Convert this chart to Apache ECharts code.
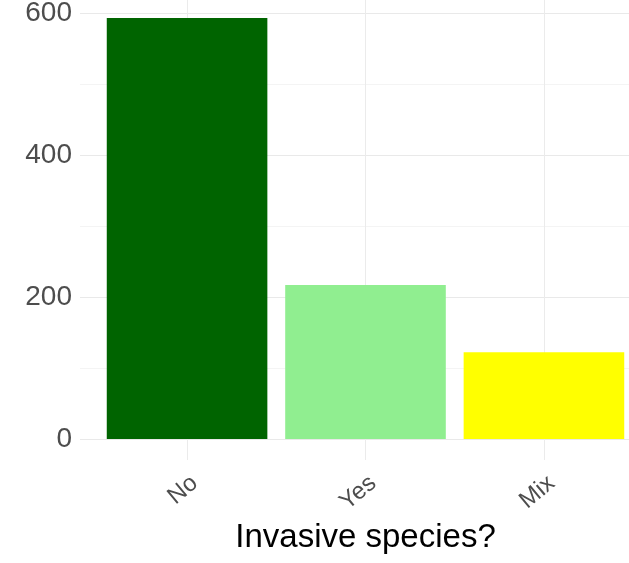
<!DOCTYPE html>
<html>
<head>
<meta charset="utf-8">
<script src="https://cdn.jsdelivr.net/npm/echarts@6/dist/echarts.min.js"></script>
<style>
html,body{margin:0;padding:0;background:#fff}
#chart{width:629px;height:563px}
</style>
</head>
<body>
<div id="chart"></div>
<script>
// data
const categories = ['No', 'Yes', 'Mix'];
const counts = [593, 217, 122];
const barColors = ['#006400', '#90ee90', '#ffff00'];
const yTickLabels = [0, 200, 400, 600];

// bars sit at 1,2,3 on a value axis so the panel can have ggplot-like padding
const positions = categories.map((c, i) => i + 1);

const chart = echarts.init(document.getElementById('chart'), null, {renderer: 'canvas'});

const option = {
    backgroundColor: '#fff',
    animation: false,
    grid: {
        left: 80,
        right: -22,
        top: -3,
        bottom: 103,
        outerBoundsMode: 'none'
    },
    xAxis: {
        type: 'value',
        min: 0.4,
        max: 3.6,
        minInterval: 1,
        maxInterval: 1,
        axisLine: {show: false},
        axisTick: {show: false},
        splitLine: {
            show: true,
            showMinLine: false,
            showMaxLine: false,
            lineStyle: {color: '#ebebeb', width: 1}
        },
        axisLabel: {
            rotate: 40,
            margin: 11,
            fontSize: 24,
            verticalAlign: 'top',
            color: '#4d4d4d',
            fontFamily: 'Liberation Sans',
            showMinLabel: false,
            showMaxLabel: false,
            formatter: v => categories[v - 1] || ''
        },
        name: 'Invasive species?',
        nameLocation: 'middle',
        nameGap: 61,
        nameTextStyle: {fontSize: 33, color: '#000', fontFamily: 'Liberation Sans'}
    },
    yAxis: {
        type: 'value',
        min: -29.65,
        max: 622.65,
        minInterval: 100,
        maxInterval: 100,
        axisLine: {show: false},
        axisTick: {show: false},
        splitLine: {
            show: true,
            showMinLine: false,
            showMaxLine: false,
            lineStyle: {color: ['#e9e9e9', '#f4f4f4'], width: 1}
        },
        axisLabel: {
            margin: 8,
            fontSize: 28,
            color: '#4d4d4d',
            fontFamily: 'Liberation Sans',
            showMinLabel: false,
            showMaxLabel: false,
            formatter: v => yTickLabels.includes(v) ? String(v) : ''
        }
    },
    series: [{
        type: 'bar',
        barWidth: '90%',
        data: positions.map((p, i) => ({
            value: [p, counts[i]],
            itemStyle: {color: barColors[i]}
        }))
    }]
};

chart.setOption(option);
</script>
</body>
</html>
